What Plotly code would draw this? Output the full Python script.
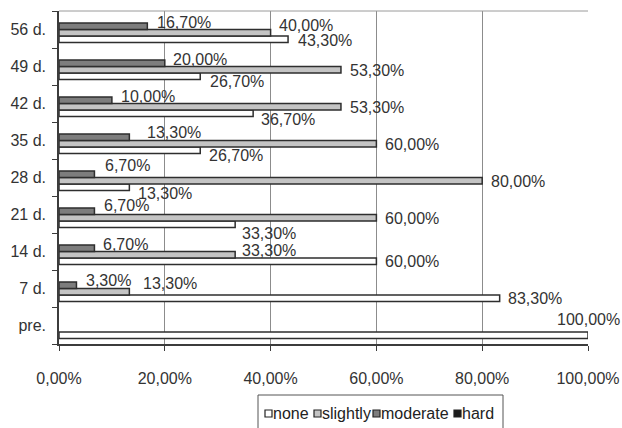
import plotly.graph_objects as go

# Share of animals per severity grade at each time point (%)
categories = ["pre.", "7 d.", "14 d.", "21 d.", "28 d.", "35 d.", "42 d.", "49 d.", "56 d."]
none_pct = [100.0, 83.3, 60.0, 33.3, 13.3, 26.7, 36.7, 26.7, 43.3]
slightly_pct = [0.0, 13.3, 33.3, 60.0, 80.0, 60.0, 53.3, 53.3, 40.0]
moderate_pct = [0.0, 3.3, 6.7, 6.7, 6.7, 13.3, 10.0, 20.0, 16.7]
hard_pct = [0.0, 0.0, 0.0, 0.0, 0.0, 0.0, 0.0, 0.0, 0.0]
series_names = ["none", "slightly", "moderate", "hard"]
x_ticks = [0, 20, 40, 60, 80, 100]
x_tick_labels = ["0,00%", "20,00%", "40,00%", "60,00%", "80,00%", "100,00%"]

series_values = [none_pct, slightly_pct, moderate_pct, hard_pct]
fills = ["#ffffff", "#c4c4c4", "#7d7d7d", "#1c1c1c"]
edge = "#2e2e2e"
font_family = "Liberation Sans, Arial, sans-serif"
text_color = "#333333"

# label nudges (xshift, yshift) in pixels, per series and category
label_nudge = {
    "none": [(-33, 6), (6, -10), (7, -10), (5, -18.5), (7, -16), (7, -14.5), (6, -16), (8, -15), (8, -10.5)],
    "slightly": [None, (12, 5), (5, 1.5), (7, -4), (7, -4), (7, -4), (7, -4), (7, -4), (6, 4.5)],
    "moderate": [None, (8, 8), (7, 7), (8, 9.5), (9, 12), (16, 8), (7, 7.5), (6, 7.5), (8, 6.8)],
}

fig = go.Figure()
for name, vals, fill in zip(series_names, series_values, fills):
    fig.add_trace(go.Bar(
        y=categories, x=vals, name=name, orientation="h",
        marker=dict(color=fill,
                    line=dict(color=edge, width=[1.5 if v > 0 else 0 for v in vals])),
        showlegend=False, hoverinfo="x+name",
    ))


def pct_text(v):
    return f"{v:.2f}".replace(".", ",") + "%"


annotations = []
for name, vals in zip(series_names, series_values):
    nudges = label_nudge.get(name)
    if nudges is None:
        continue
    for cat, v, nd in zip(categories, vals, nudges):
        if v <= 0 or nd is None:
            continue
        annotations.append(dict(
            x=v, y=cat, xref="x", yref="y", text=pct_text(v), showarrow=False,
            xanchor="left", yanchor="middle", xshift=nd[0] + 1, yshift=nd[1],
            borderpad=0, font=dict(family=font_family, size=16, color=text_color),
        ))

# hand-made legend row below the axis
plot_l, plot_w, plot_b, plot_h = 59, 529, 344, 333


def px_x(px):
    return (px - plot_l) / plot_w


def px_y(py):
    return (plot_b - py) / plot_h


shapes = [
    dict(type="line", xref="paper", yref="paper", x0=0, x1=1, y0=1, y1=1,
         line=dict(color="#9a9a9a", width=1)),
    dict(type="rect", xref="paper", yref="paper", x0=px_x(258), x1=px_x(503),
         y0=px_y(395), y1=px_y(440), line=dict(color="#555555", width=1),
         fillcolor="rgba(0,0,0,0)"),
]
legend_sq_x = [265, 314, 373, 454]
for sx, fill, name in zip(legend_sq_x, fills, series_names):
    shapes.append(dict(type="rect", xref="paper", yref="paper",
                       x0=px_x(sx), x1=px_x(sx + 7), y0=px_y(417), y1=px_y(410),
                       line=dict(color="#222222", width=1.2), fillcolor=fill))
    annotations.append(dict(
        x=px_x(sx + 7), y=px_y(413.5), xref="paper", yref="paper", text=name,
        showarrow=False, xanchor="left", yanchor="middle", borderpad=0,
        font=dict(family=font_family, size=16, color="#222222"),
    ))

fig.update_layout(
    width=622, height=428,
    margin=dict(l=plot_l, r=622 - plot_l - plot_w, t=11, b=428 - plot_b, autoexpand=False),
    paper_bgcolor="white", plot_bgcolor="white",
    barmode="group", bargap=0.3, bargroupgap=0,
    font=dict(family=font_family, size=16, color=text_color),
    annotations=annotations, shapes=shapes,
)
fig.update_xaxes(
    range=[0, 100], tickmode="array", tickvals=x_ticks, ticktext=x_tick_labels,
    showgrid=True, gridcolor="#8c8c8c", gridwidth=1, zeroline=False,
    showline=True, linecolor="#3c3c3c", linewidth=1.5,
    ticks="outside", ticklen=5, tickcolor="#3c3c3c", tickwidth=1.2,
    ticklabelstandoff=14, tickfont=dict(size=16, color=text_color),
)
fig.update_yaxes(
    type="category", categoryorder="array", categoryarray=categories,
    tickson="boundaries", ticks="outside", ticklen=5, tickcolor="#3c3c3c", tickwidth=1.2,
    showline=True, linecolor="#3c3c3c", linewidth=1.5, showgrid=False,
    ticklabelstandoff=8, tickfont=dict(size=16, color=text_color),
)

fig.write_html("out.html")
